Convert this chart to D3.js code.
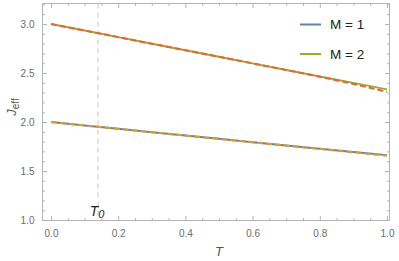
<!DOCTYPE html>
<html>
<head>
  <style>
    body { margin: 0; background: #fff; }
    svg { display: block; font-family: "Liberation Sans", Arial, sans-serif; }
  </style>
</head>
<body>
  <svg id="chart" width="399" height="261"></svg>
  <script src="https://d3js.org/d3.v7.min.js"></script>
  <script>
    // Data
    const temps = [0, 0.1, 0.2, 0.3, 0.4, 0.5, 0.6, 0.7, 0.8, 0.9, 1.0];
    const m1Solid = [2.000, 1.965, 1.930, 1.896, 1.862, 1.828, 1.794, 1.761, 1.728, 1.695, 1.662];
    const m1Dashed = [2.000, 1.965, 1.930, 1.896, 1.861, 1.827, 1.793, 1.759, 1.725, 1.690, 1.655];
    const m2Solid = [3.000, 2.933, 2.866, 2.799, 2.732, 2.665, 2.598, 2.531, 2.465, 2.399, 2.333];
    const m2Dashed = [3.000, 2.933, 2.866, 2.799, 2.732, 2.665, 2.598, 2.531, 2.462, 2.388, 2.308];
    const legendLabels = ["M = 1", "M = 2"];
    const xTicks = [0, 0.2, 0.4, 0.6, 0.8, 1.0];
    const yTicks = [1.0, 1.5, 2.0, 2.5, 3.0];
    const T0 = 0.14;

    const svg = d3.select("#chart");
    const pLeft = 42.5, pRight = 389.5, pTop = 3.5, pBottom = 220.5;
    const frameColor = "#b3b3b3";

    const x = d3.scaleLinear().domain([-0.0253, 1.0074]).range([pLeft, pRight]);
    const y = d3.scaleLinear().domain([0.995, 3.209]).range([pBottom, pTop]);

    const xMinor = d3.range(0, 1.0001, 0.05).filter(v => Math.abs(v * 5 - Math.round(v * 5)) > 1e-6);
    const yMinor = d3.range(1.0, 3.2001, 0.1).filter(v => Math.abs(v * 2 - Math.round(v * 2)) > 1e-6);

    // frame ticks on all sides, pointing inward
    function frameAxis(axisFn, scale, major, minor, pos, labels) {
      const g = svg.append("g").attr("transform", pos);
      g.append("g").call(axisFn(scale).tickValues(minor).tickSize(-2.5).tickFormat(""));
      const gm = g.append("g").call(axisFn(scale).tickValues(major).tickSize(-4.5).tickPadding(9)
        .tickFormat(labels ? d3.format(".1f") : ""));
      g.selectAll(".domain").remove();
      g.selectAll("line").attr("stroke", frameColor);
      gm.selectAll("text").attr("fill", "#6b6b6b").style("font-size", "10px");
      return gm;
    }
    frameAxis(d3.axisBottom, x, xTicks, xMinor, `translate(0,${pBottom})`, true);
    frameAxis(d3.axisTop, x, xTicks, xMinor, `translate(0,${pTop})`, false);
    const yl = frameAxis(d3.axisLeft, y, yTicks, yMinor, `translate(${pLeft},0)`, true);
    yl.selectAll("text").attr("dx", "1");
    frameAxis(d3.axisRight, y, yTicks, yMinor, `translate(${pRight},0)`, false);

    svg.append("rect")
      .attr("x", pLeft).attr("y", pTop)
      .attr("width", pRight - pLeft).attr("height", pBottom - pTop)
      .attr("fill", "none").attr("stroke", frameColor).attr("stroke-width", 1);

    // T0 marker
    svg.append("line")
      .attr("x1", x(T0)).attr("x2", x(T0))
      .attr("y1", pTop).attr("y2", pBottom)
      .attr("stroke", "#cfcfcf").attr("stroke-width", 1.2)
      .attr("stroke-dasharray", "5,4");
    const t0 = svg.append("text")
      .attr("x", x(T0) - 1).attr("y", 216)
      .attr("text-anchor", "middle")
      .style("font-size", "14px").style("font-style", "italic").attr("fill", "#222");
    t0.append("tspan").text("T");
    t0.append("tspan").attr("dy", 2).style("font-size", "11px").text("0");

    // series
    const line = d3.line().x((d, i) => x(temps[i])).y(d => y(d));
    const series = [
      { values: m1Solid, color: "#5e81b5", dash: null },
      { values: m2Solid, color: "#8fb032", dash: null },
      { values: m1Dashed, color: "#e19c24", dash: "6,3" },
      { values: m2Dashed, color: "#eb6235", dash: "6,3" }
    ];
    series.forEach(s => {
      svg.append("path")
        .datum(s.values)
        .attr("fill", "none")
        .attr("stroke", s.color)
        .attr("stroke-width", 2)
        .attr("stroke-dasharray", s.dash)
        .attr("d", line);
    });

    // legend
    const legendColors = ["#5e81b5", "#8fb032"];
    legendLabels.forEach((lab, i) => {
      const ly = 24.5 + i * 29.5;
      svg.append("line")
        .attr("x1", 300).attr("x2", 321)
        .attr("y1", ly).attr("y2", ly)
        .attr("stroke", legendColors[i]).attr("stroke-width", 2);
      svg.append("text")
        .attr("x", 330).attr("y", ly + 4.7)
        .style("font-size", "13.5px").attr("fill", "#222")
        .text(lab);
    });

    // axis titles
    const jl = svg.append("text")
      .attr("transform", "translate(16,107) rotate(-90)")
      .attr("text-anchor", "middle")
      .attr("fill", "#555")
      .style("font-size", "13px");
    jl.append("tspan").style("font-style", "italic").text("J");
    jl.append("tspan").attr("dy", 3).style("font-size", "10px").text("eff");

    svg.append("text")
      .attr("x", 219).attr("y", 256)
      .attr("text-anchor", "middle")
      .attr("fill", "#555")
      .style("font-size", "13px").style("font-style", "italic")
      .text("T");
  </script>
</body>
</html>
